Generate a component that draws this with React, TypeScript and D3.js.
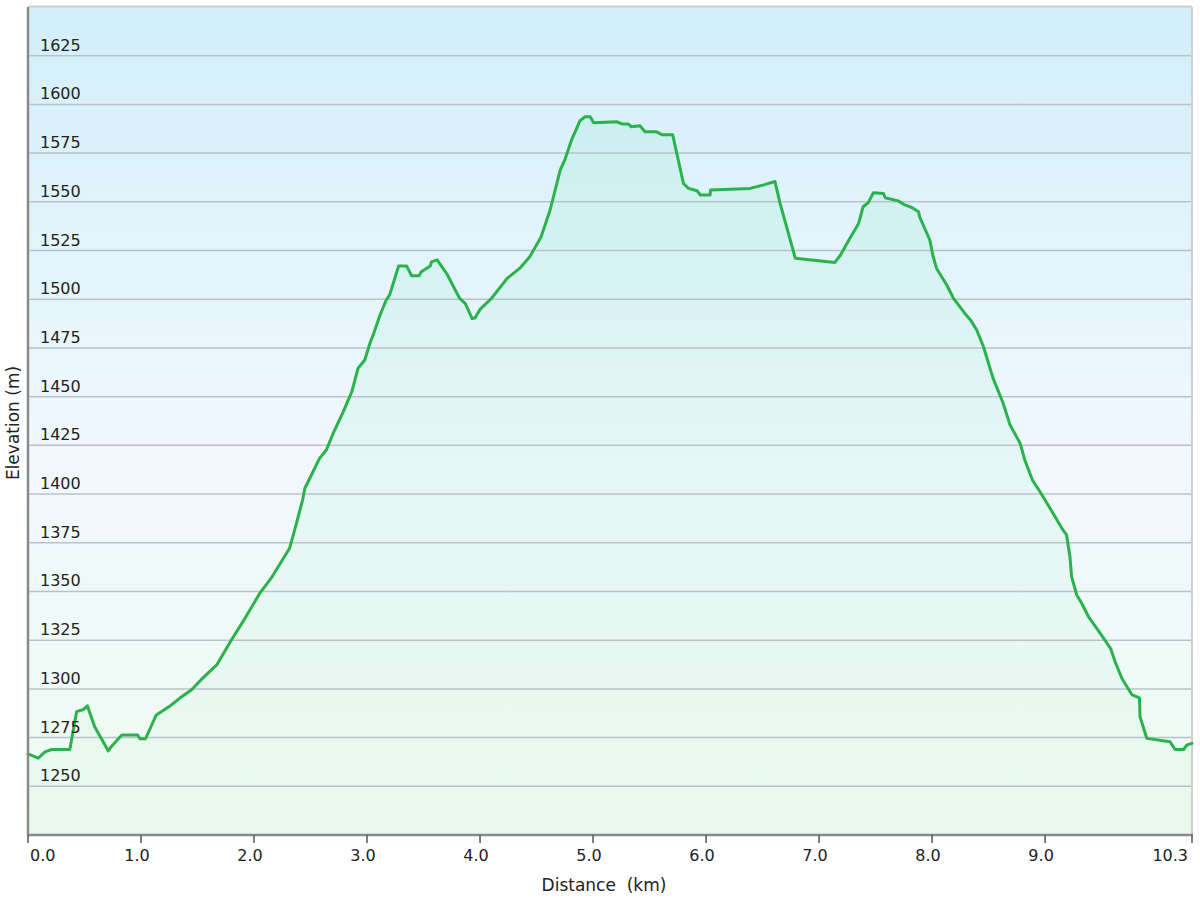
import { area, curveLinear, line, scaleLinear } from "d3";
import { FC } from "react";

// distance along the track (km)
const distance = [
  0.0, 0.09, 0.15, 0.21, 0.37, 0.43, 0.49, 0.525, 0.59, 0.71, 0.74, 0.83, 0.97, 0.99, 1.04,
  1.135, 1.25, 1.36, 1.445, 1.53, 1.67, 1.8, 1.92, 2.05, 2.15, 2.315, 2.36, 2.43, 2.45, 2.58,
  2.64, 2.7, 2.79, 2.865, 2.92, 2.98, 3.03, 3.055, 3.115, 3.17, 3.2, 3.28, 3.35, 3.395, 3.46,
  3.48, 3.56, 3.57, 3.62, 3.705, 3.82, 3.87, 3.93, 3.955, 4.0, 4.1, 4.24, 4.35, 4.44, 4.54,
  4.62, 4.71, 4.75, 4.81, 4.885, 4.93, 4.975, 5.005, 5.21, 5.255, 5.31, 5.34, 5.415, 5.46,
  5.56, 5.61, 5.705, 5.8, 5.845, 5.92, 5.95, 6.035, 6.04, 6.39, 6.51, 6.61, 6.655, 6.79, 7.14,
  7.19, 7.27, 7.35, 7.39, 7.435, 7.48, 7.57, 7.585, 7.7, 7.76, 7.82, 7.88, 7.89, 7.98, 8.01,
  8.04, 8.13, 8.19, 8.29, 8.34, 8.395, 8.455, 8.54, 8.63, 8.69, 8.78, 8.82, 8.89, 8.955, 9.045,
  9.15, 9.19, 9.22, 9.235, 9.28, 9.325, 9.385, 9.49, 9.58, 9.62, 9.68, 9.77, 9.835, 9.84, 9.9,
  10.105, 10.15, 10.225, 10.255, 10.3
];

// elevation (m)
const elevation = [
  1266.6, 1264.4, 1267.7, 1268.9, 1268.9, 1288.3, 1289.4, 1291.3, 1280.6, 1268.2, 1270.6,
  1276.3, 1276.3, 1274.4, 1274.4, 1286.6, 1290.9, 1296.0, 1299.4, 1304.6, 1312.3, 1325.1,
  1336.2, 1349.0, 1356.7, 1372.2, 1381.6, 1397.0, 1403.0, 1418.3, 1422.6, 1431.1, 1442.3,
  1452.5, 1464.5, 1468.8, 1478.2, 1481.7, 1491.9, 1499.6, 1502.2, 1517.1, 1517.1, 1512.0,
  1512.0, 1514.1, 1517.1, 1519.2, 1520.2, 1513.2, 1500.4, 1497.8, 1490.1, 1490.4, 1494.8,
  1500.4, 1510.7, 1515.8, 1521.8, 1532.0, 1545.8, 1566.4, 1571.5, 1581.8, 1591.7, 1593.7,
  1593.7, 1590.6, 1591.1, 1590.0, 1590.0, 1588.5, 1589.0, 1586.0, 1586.0, 1584.4, 1584.4,
  1559.4, 1556.9, 1555.7, 1553.5, 1553.5, 1556.1, 1556.9, 1558.7, 1560.4, 1549.2, 1521.0,
  1518.9, 1522.7, 1531.0, 1538.9, 1547.5, 1549.5, 1554.6, 1554.3, 1552.1, 1550.5, 1548.4,
  1547.1, 1544.9, 1542.3, 1530.4, 1521.8, 1515.8, 1507.3, 1500.4, 1492.7, 1489.4, 1484.2,
  1475.6, 1459.4, 1446.5, 1435.4, 1426.0, 1417.5, 1407.0, 1401.2, 1392.6, 1382.3, 1379.0,
  1367.8, 1357.5, 1348.2, 1343.8, 1337.0, 1328.4, 1320.7, 1313.9, 1305.3, 1296.9, 1295.4,
  1285.7, 1274.6, 1272.9, 1268.9, 1268.9, 1271.2, 1272.0
];

const xTicks = [0, 1, 2, 3, 4, 5, 6, 7, 8, 9, 10.3];
const yTicks = [1250, 1275, 1300, 1325, 1350, 1375, 1400, 1425, 1450, 1475, 1500, 1525, 1550, 1575, 1600, 1625];

const W = 1200;
const H = 900;
const left = 28;
const right = 1192;
const top = 7;
const bottom = 835;
const font = "'DejaVu Sans', Verdana, sans-serif";

const App: FC = () => {
  const x = scaleLinear().domain([0, 10.3]).range([left, right]);
  const y = scaleLinear().domain([1225, 1650]).range([bottom, top]);

  const points = distance.map((d, i) => [d, elevation[i]] as [number, number]);

  const linePath = line<[number, number]>()
    .x((d) => x(d[0]))
    .y((d) => y(d[1]))
    .curve(curveLinear)(points)!;

  const areaPath = area<[number, number]>()
    .x((d) => x(d[0]))
    .y0(bottom)
    .y1((d) => y(d[1]))(points)!;

  return (
    <svg
      width={W}
      height={H}
      style={{ position: "absolute", left: 0, top: 0, background: "#fff" }}
    >
      <defs>
        <linearGradient id="bg" x1="0" y1="0" x2="0" y2="1">
          <stop offset="0%" stopColor="#d2eff9" />
          <stop offset="55%" stopColor="#f1f8fe" />
          <stop offset="100%" stopColor="#eefbf1" />
        </linearGradient>
        <linearGradient id="fill" x1="0" y1="0" x2="0" y2="1">
          <stop offset="0%" stopColor="#5fe0a8" stopOpacity={0.12} />
          <stop offset="100%" stopColor="#6ee09a" stopOpacity={0.04} />
        </linearGradient>
      </defs>

      {/* plot background */}
      <rect x={left} y={top} width={right - left} height={bottom - top} fill="url(#bg)" />

      {/* area under the profile */}
      <path d={areaPath} fill="url(#fill)" />

      {/* gridlines */}
      {yTicks.map((t) => (
        <line
          key={t}
          x1={left}
          x2={right}
          y1={y(t)}
          y2={y(t)}
          stroke="#b9c3c7"
          strokeWidth={1.5}
        />
      ))}

      {/* frame */}
      <line x1={left} x2={right} y1={top - 0.5} y2={top - 0.5} stroke="#cfcfcf" strokeWidth={2} />
      <line x1={right} x2={right} y1={top} y2={bottom} stroke="#cfcfcf" strokeWidth={2} />

      {/* profile line */}
      <path
        d={linePath}
        fill="none"
        stroke="#2bb24c"
        strokeWidth={3}
        strokeLinejoin="round"
        strokeLinecap="round"
      />

      {/* y tick labels */}
      {yTicks.map((t) => (
        <text key={t} x={40} y={y(t) - 5} fontFamily={font} fontSize={16} fill="#222">
          {t}
        </text>
      ))}

      {/* axes */}
      <line x1={left} x2={left} y1={top} y2={bottom} stroke="#8a8a8a" strokeWidth={2.5} />
      <line x1={left - 1} x2={right + 1} y1={bottom} y2={bottom} stroke="#8a8a8a" strokeWidth={2.5} />

      {xTicks.map((t, i) => {
        const last = i === xTicks.length - 1;
        const anchor = i === 0 ? "start" : last ? "end" : "middle";
        const dx = i === 0 ? 2 : -4;
        return (
          <g key={t}>
            <line x1={x(t)} x2={x(t)} y1={bottom} y2={bottom + 8} stroke="#555" strokeWidth={1.5} />
            <text
              x={x(t) + dx}
              y={861}
              textAnchor={anchor}
              fontFamily={font}
              fontSize={16}
              fill="#222"
            >
              {t.toFixed(1)}
            </text>
          </g>
        );
      })}

      {/* axis titles */}
      <text
        x={604}
        y={891}
        textAnchor="middle"
        fontFamily={font}
        fontSize={17}
        fill="#222"
        style={{ whiteSpace: "pre" }}
      >
        {"Distance  (km)"}
      </text>
      <text
        transform="translate(19,423) rotate(-90)"
        textAnchor="middle"
        fontFamily={font}
        fontSize={17}
        fill="#222"
      >
        Elevation (m)
      </text>
    </svg>
  );
};

export default App;
